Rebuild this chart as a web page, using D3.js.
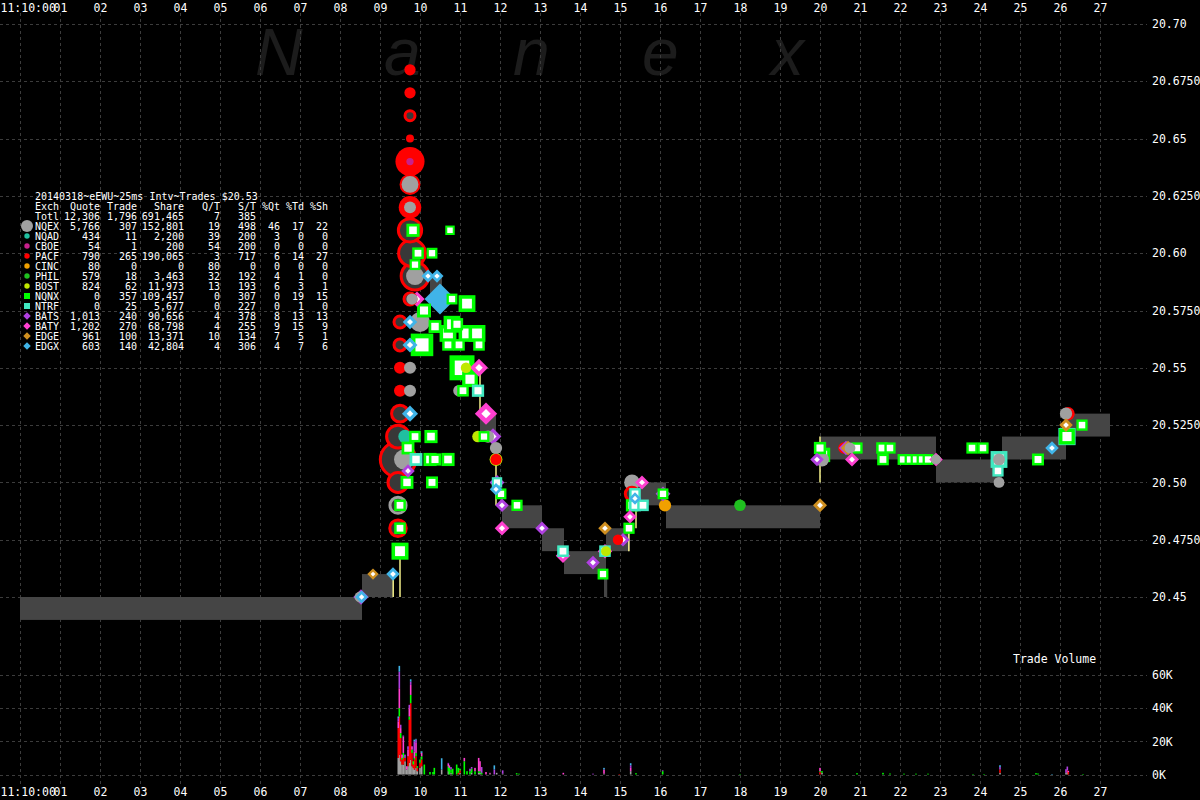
<!DOCTYPE html>
<html><head><meta charset="utf-8">
<script src="https://cdn.jsdelivr.net/npm/d3@7"></script>
<style>html,body{margin:0;padding:0;background:#000;}svg{display:block;}</style>
</head><body>
<svg id="c" width="1200" height="800"></svg>
<script>
// ---------------- DATA ----------------
const chartTitle = "20140318~eEWU~25ms Intv~Trades $20.53";
const timeTicks = d3.range(0, 28);
const priceTicks = [20.45, 20.475, 20.50, 20.525, 20.55, 20.575, 20.60, 20.625, 20.65, 20.675, 20.70];
const volTicks = [0, 20, 40, 60];

const exchNames  = ['NQEX','NQAD','CBOE','PACF','CINC','PHIL','BOST','NQNX','NTRF','BATS','BATY','EDGE','EDGX'];
const exchQuotes = [5766, 434, 54, 790, 80, 579, 824, 0, 0, 1013, 1202, 961, 603];
const exchTrades = [307, 11, 1, 265, 0, 18, 62, 357, 25, 240, 270, 100, 140];
const exchShares = [152801, 2200, 200, 190065, 0, 3463, 11973, 109457, 5677, 90656, 68798, 13371, 42804];
const exchQT     = [19, 39, 54, 3, 80, 32, 13, 0, 0, 4, 4, 10, 4];
const exchST     = [498, 200, 200, 717, 0, 192, 193, 307, 227, 378, 255, 134, 306];
const exchPctQt  = [46, 3, 0, 6, 0, 4, 6, 0, 0, 8, 9, 7, 4];
const exchPctTd  = [17, 0, 0, 14, 0, 1, 3, 19, 1, 13, 15, 5, 7];
const exchPctSh  = [22, 0, 0, 27, 0, 0, 1, 15, 0, 13, 9, 1, 6];
const totals     = [12306, 1796, 691465, 7, 385];

// bid/ask band: [t0, t1, bid, ask]
const bands = [
  [0, 8.55, 20.44, 20.45], [8.55, 9.33, 20.45, 20.46], [10.25, 10.55, 20.58, 20.59],
  [11.5, 11.9, 20.52, 20.53], [12.05, 13.05, 20.48, 20.49], [13.05, 13.6, 20.47, 20.48],
  [13.6, 14.65, 20.46, 20.47], [14.6, 14.68, 20.45, 20.46], [14.65, 15.25, 20.47, 20.48],
  [15.25, 16.15, 20.49, 20.50], [16.15, 20.0, 20.48, 20.49], [20.0, 22.9, 20.51, 20.52],
  [22.9, 24.55, 20.50, 20.51], [24.55, 26.15, 20.51, 20.52], [26.15, 27.25, 20.52, 20.53]
];

// trade range lines: [t, low, high]
const rangeLines = [
  [9.33, 20.45, 20.46], [9.5, 20.45, 20.47], [11.5, 20.53, 20.55], [11.9, 20.49, 20.515],
  [15.22, 20.47, 20.48], [15.4, 20.48, 20.50], [20.0, 20.50, 20.52]
];

// trades: [t(sec), price, exchange, shares, condition('o' = sweep ring)]
const trades = [
  [8.5,20.45,'NQEX',300],[8.525,20.45,'BATS',500],[8.54,20.45,'EDGX',250],[8.825,20.46,'EDGE',120],
  [9.325,20.46,'EDGX',300],
  [9.5,20.47,'NQNX',1550],
  [9.45,20.48,'PACF',1400,'o'],[9.5,20.48,'NQNX',400],
  [9.45,20.49,'NQEX',1300,'o'],[9.5,20.49,'NQNX',400],
  [9.45,20.50,'PACF',2500,'o'],[9.675,20.50,'NQNX',600],[10.3,20.50,'NQNX',450],
  [9.45,20.51,'PACF',11000,'o'],[9.6,20.51,'NQEX',2500],[9.7,20.505,'BATS',300],[9.7,20.515,'NQNX',600],
  [9.9,20.51,'NTRF',600],[10.25,20.51,'NQNX',650],[10.375,20.51,'NQNX',500],[10.7,20.51,'NQNX',650],
  [9.45,20.52,'PACF',3600,'o'],[9.625,20.52,'NQAD',700],[9.875,20.52,'NQNX',400],[10.275,20.52,'NQNX',650],
  [9.5,20.53,'PACF',1500,'o'],[9.75,20.53,'EDGX',600],
  [9.5,20.54,'PACF',460],[9.75,20.54,'NQEX',460],
  [9.5,20.55,'PACF',460],[9.75,20.55,'NQEX',460],
  [9.5,20.56,'PACF',460,'o'],[9.75,20.56,'EDGX',460],[10.05,20.56,'NQNX',3500],
  [9.5,20.57,'PACF',460,'o'],[9.75,20.57,'EDGX',400],[10.0,20.57,'NQEX',2500],
  [9.75,20.58,'PACF',460,'o'],[9.8,20.58,'NQEX',350],[9.925,20.58,'BATY',500],[10.5,20.58,'EDGX',4500],
  [9.875,20.59,'PACF',6000,'o'],[9.875,20.59,'NQEX',1800],[10.2,20.59,'EDGX',250],[10.425,20.59,'EDGX',250],
  [9.8,20.60,'PACF',5500,'o'],[9.95,20.60,'NQNX',400],[10.3,20.60,'NQNX',300],[9.875,20.595,'NQNX',300],
  [9.75,20.61,'PACF',3800,'o'],[9.825,20.61,'NQNX',650],[10.75,20.61,'NQNX',150],
  [9.75,20.62,'PACF',3500],[9.75,20.62,'NQEX',450],
  [9.75,20.63,'PACF',1800,'o'],[9.75,20.63,'NQEX',1500],
  [9.75,20.64,'PACF',6800],[9.75,20.64,'CBOE',20],
  [9.75,20.65,'PACF',50],[9.75,20.66,'PACF',200,'o'],[9.75,20.67,'PACF',350],[9.75,20.68,'PACF',350],
  [10.1,20.575,'NQNX',800],[10.375,20.568,'NQNX',600],[10.7,20.565,'NQNX',1500],[10.8,20.569,'NQNX',1500],
  [10.925,20.569,'NQNX',500],[10.7,20.56,'NQNX',400],[10.975,20.56,'NQNX',400],[11.175,20.565,'NQNX',1500],
  [11.425,20.565,'NQNX',1500],[11.475,20.56,'NQNX',400],[10.8,20.58,'NQNX',300],[11.175,20.578,'NQNX',1500],
  [11.05,20.55,'NQNX',4600],[11.15,20.55,'BOST',250],[11.475,20.55,'BATY',900],
  [10.975,20.54,'NQEX',400],[11.075,20.54,'NQNX',400],[11.25,20.545,'NQNX',1200],[11.45,20.54,'NTRF',500],
  [11.65,20.53,'BATY',1800],
  [11.45,20.52,'BOST',400],[11.6,20.52,'NQNX',300],[11.7,20.52,'NQEX',500],[11.825,20.52,'BATS',700],
  [11.9,20.515,'NQEX',500],[11.9,20.51,'BOST',600],[11.9,20.51,'PACF',350],
  [11.925,20.50,'BATS',450],[11.925,20.50,'NTRF',250],[11.9,20.497,'EDGX',200],[12.025,20.495,'NQNX',300],
  [12.05,20.49,'BATS',300],[12.425,20.49,'NQNX',350],[12.05,20.48,'BATY',400],[13.05,20.48,'BATS',300],
  [13.575,20.468,'BATY',400],[13.575,20.47,'NTRF',400],[14.325,20.465,'BATS',300],[14.575,20.46,'NQNX',300],
  [14.625,20.47,'BATY',400],[14.625,20.47,'NTRF',400],[14.65,20.47,'BOST',200],[14.625,20.48,'EDGE',300],
  [14.95,20.475,'PACF',250],[15.075,20.475,'BATS',300],[15.225,20.48,'NQNX',350],[15.25,20.485,'BATY',300],
  [15.3,20.50,'NQEX',1200],[15.55,20.50,'BATY',350],[15.3,20.495,'PACF',700,'o'],[15.375,20.495,'NTRF',400],
  [15.375,20.493,'EDGX',200],[15.3,20.49,'NQNX',500],[15.375,20.49,'NTRF',450],[15.575,20.49,'NTRF',400],
  [16.075,20.495,'BATS',450],[16.075,20.495,'NQNX',300],[16.125,20.49,'CINC',500],
  [18.0,20.49,'PHIL',400],[20.0,20.49,'EDGE',350],
  [19.925,20.51,'BATS',300],[20.0,20.515,'NQNX',500],[20.05,20.51,'NQEX',800],[20.075,20.512,'NQNX',900],
  [20.6,20.515,'PACF',400],[20.65,20.515,'BATS',400],[20.7,20.515,'EDGE',400],[20.75,20.515,'NQEX',300],
  [20.925,20.515,'NQNX',350],[20.8,20.51,'BATY',350],
  [21.55,20.515,'NQNX',400],[21.75,20.515,'NQNX',350],[21.575,20.51,'NQNX',400],
  [22.075,20.51,'NQNX',300],[22.25,20.51,'NQNX',300],[22.4,20.51,'NQNX',300],[22.55,20.51,'NQNX',300],[22.7,20.51,'NQNX',300],
  [22.9,20.51,'BATY',300],[22.9,20.51,'NQEX',200],
  [23.8,20.515,'NQNX',350],[24.075,20.515,'NQNX',350],
  [24.475,20.51,'NTRF',1500],[24.475,20.51,'NQEX',450],[24.45,20.505,'NTRF',350],[24.475,20.50,'NQEX',300],
  [25.45,20.51,'NQNX',450],[25.8,20.515,'EDGX',300],
  [26.175,20.52,'NTRF',1600],[26.175,20.52,'NQNX',1200],[26.15,20.525,'EDGE',300],
  [26.15,20.53,'NQEX',500],[26.2,20.53,'PACF',700],[26.55,20.525,'NQNX',350]
];

// trade volume per 25ms interval, thousands of shares
const volKeys = ['NQEX','PACF','NQNX','BATY','BATS','EDGX'];
const volRows = [
  [9.457,10,18,0,4,2,1],[9.483,12,23,5,12,10,3.5],[9.517,8,14,3,3,2,0],[9.55,6,3,1,2,0,0],
  [9.583,6,4,3,10,0.5,0],[9.625,8,2,0,0,2,0],[9.667,3,0,0,2,0,0],[9.7,5,6,0,4,2,0],
  [9.733,7,26,2,5,2,0],[9.767,9,34,5,6,2,1.4],[9.8,5,8,2,2,0,0],[9.833,4,2,2,0,0,0],
  [9.858,3,6,1,4,6,1],[9.9,4,7,2,6,2,0.5],[9.933,2,2,1,0,0,0],[10.0,4,3,2,0,0,0],
  [10.042,5,4,2,2,0,1],[10.108,0,0,6,0,0,0],[10.25,0,0,1.5,0,0,0],[10.325,0,0,1.5,0,0,0],
  [10.358,0,0,4,0,0,0],[10.542,3,0,0,0,0,6.8],[10.708,2,0,3,1.5,0.5,0],[10.733,0,0,4,1.5,0,0],
  [10.775,1,0,2,0,1.5,0],[10.817,0,0,3.5,0,0,0],[10.917,0,0,6,0,0,0],[10.958,0,1,3,0,0,0],
  [11.0,1,1.5,1,0,0,0],[11.108,0,0,8,2,0,0],[11.175,0,0,2,0,0,0],[11.25,0,0,2,0,1.5,0],
  [11.292,1,0,2.5,0,1,0],[11.375,0,0,2,2,0,0],[11.467,1,0,1,8,0,0],[11.5,1,0,1,6,0,0],
  [11.542,0,0,1,0,3.5,0],[11.65,0,0,0,1.5,0,0],[11.75,0.5,0,0,0.5,0,0],[11.858,0,0,0,0,3,2.5],
  [11.917,1,0,0,0,0,0],[12.067,0.5,0,0,0,2,0],[12.417,0,0,0.8,0,0,0],[12.475,0,0,0.5,0,0,0],
  [13.583,0,0,0,1,0,0],[14.325,0,0,0,0,0.5,0],[14.6,0.5,0,0,2.5,0,1],[14.983,0,0.3,0,0,0,0],
  [15.267,2,0,0,2,1.5,1.3],[15.4,0,0,0.8,0,0,0],[16.067,0,0,2,0,0.5,0],[18.0,0,0,0.3,0,0,0],
  [20.0,0,1.5,0.5,2,0,0],[20.05,1,0,1,0,0,0],[20.925,0,0,0.8,0,0,0],[21.575,0,0,1,0,0,0],
  [21.75,0,0,0.6,0,0,0],[22.1,0,0,0.5,0,0,0],[22.4,0,0,0.5,0,0,0],[22.7,0,0,0.5,0,0,0],
  [23.825,0,0,0.3,0,0,0],[24.1,0,0,0.3,0,0,0],[24.5,1,2,0,0,1.5,1.1],[25.4,0,0,0.8,0,0,0],
  [25.45,0,0,0.6,0,0,0],[25.8,0,0,0,0,0,0.3],[26.15,1,0,0,0,2.2,0],[26.183,1.5,1,0,0,2.3,0],
  [26.208,0,1.5,0,0.7,0,0],[26.575,0,0,0.3,0,0,0]
];

// ---------------- STYLE ----------------
const exchColor = {NQEX:'#a0a0a0',NQAD:'#20c0a0',CBOE:'#c8208c',PACF:'#ff0000',CINC:'#f0a000',PHIL:'#20c020',
  BOST:'#c0e800',NQNX:'#00ff00',NTRF:'#40e8c0',BATS:'#b040e0',BATY:'#ff40d0',EDGE:'#d09020',EDGX:'#40b4e8'};
const exchShape = {NQEX:'c',NQAD:'c',CBOE:'c',PACF:'c',CINC:'c',PHIL:'c',BOST:'c',NQNX:'s',NTRF:'s',BATS:'d',BATY:'d',EDGE:'d',EDGX:'d'};
const MONO = "'DejaVu Sans Mono', monospace";
const gridColor = '#3c3c3c';

const svg = d3.select('#c');
svg.append('rect').attr('width',1200).attr('height',800).attr('fill','#000');

const x  = d3.scaleLinear().domain([0, 27]).range([20, 1100]);
const yP = d3.scaleLinear().domain([20.45, 20.70]).range([597, 24]);
const yV = d3.scaleLinear().domain([0, 60]).range([774.5, 675]);
const rS = s => 3 + Math.sqrt(s) * 0.14;

// watermark
svg.append('g').selectAll('text').data(['N','a','n','e','x']).join('text')
  .attr('x', (d,i) => 255 + i*129).attr('y', 75)
  .attr('font-family', "'Liberation Sans', Arial, sans-serif").attr('font-style','italic')
  .attr('font-size', 66).attr('fill', '#1c1c1c').text(d => d);

// grid
const grid = svg.append('g').attr('stroke', gridColor).attr('stroke-dasharray','3,3').attr('stroke-width',1);
grid.selectAll('.v').data(timeTicks).join('line').attr('class','v')
  .attr('x1', d => x(d)+0.5).attr('x2', d => x(d)+0.5).attr('y1', 13).attr('y2', 784);
grid.selectAll('.hp').data(priceTicks).join('line').attr('class','hp')
  .attr('x1', 0).attr('x2', 1147).attr('y1', d => Math.round(yP(d))+0.5).attr('y2', d => Math.round(yP(d))+0.5);
grid.selectAll('.hv').data(volTicks).join('line').attr('class','hv')
  .attr('x1', 0).attr('x2', 1147).attr('y1', d => Math.round(yV(d))+0.5).attr('y2', d => Math.round(yV(d))+0.5);

// bands
svg.append('g').selectAll('rect').data(bands).join('rect')
  .attr('x', d => x(d[0])).attr('width', d => x(d[1]) - x(d[0]))
  .attr('y', d => yP(d[3])).attr('height', d => yP(d[2]) - yP(d[3]))
  .attr('fill', '#454545');

// range lines
svg.append('g').selectAll('line').data(rangeLines).join('line')
  .attr('x1', d => x(d[0])).attr('x2', d => x(d[0]))
  .attr('y1', d => yP(d[1])).attr('y2', d => yP(d[2]))
  .attr('stroke', '#f4f08a').attr('stroke-width', 1.5);

// markers
function drawMarker(g, shape, color, r, cond, legend) {
  if (shape === 'c') {
    if (cond === 'o') {
      g.append('circle').attr('r', r).attr('fill', '#383838').attr('stroke', color).attr('stroke-width', 3);
    } else {
      g.append('circle').attr('r', r).attr('fill', color);
    }
  } else if (shape === 's') {
    g.append('rect').attr('x', -r).attr('y', -r).attr('width', 2*r).attr('height', 2*r).attr('fill', color);
    if (!legend) {
      const ir = r * 0.58;
      g.append('rect').attr('x', -ir).attr('y', -ir).attr('width', 2*ir).attr('height', 2*ir).attr('fill', '#fff');
    }
  } else {
    const h = r * 1.25;
    g.append('path').attr('d', `M0,${-h}L${h},0L0,${h}L${-h},0Z`).attr('fill', color);
    if (!legend && r < 12) {
      const ih = h * 0.42;
      g.append('path').attr('d', `M0,${-ih}L${ih},0L0,${ih}L${-ih},0Z`).attr('fill', '#fff');
    }
  }
}
const sorted = trades.slice().sort((a, b) => b[3] - a[3]);
const mg = svg.append('g');
sorted.forEach(d => {
  const g = mg.append('g').attr('transform', `translate(${x(d[0])},${yP(d[1])})`);
  drawMarker(g, exchShape[d[2]], exchColor[d[2]], rS(d[3]), d[4], false);
});

// volume bars
const volData = volRows.map(r => { const o = {t: r[0]}; volKeys.forEach((k, i) => o[k] = r[i+1]); return o; });
const stack = d3.stack().keys(volKeys)(volData);
svg.append('g').selectAll('g').data(stack).join('g').attr('fill', s => exchColor[s.key])
  .selectAll('rect').data(s => s).join('rect')
  .attr('x', d => x(d.data.t) - 0.8).attr('width', 1.6)
  .attr('y', d => yV(d[1])).attr('height', d => Math.max(0, yV(d[0]) - yV(d[1])));

// axes
function styleAxis(g) {
  g.select('.domain').remove();
  g.selectAll('line').remove();
  g.selectAll('text').attr('fill', '#fff').attr('font-family', MONO).attr('font-size', 11.5);
}
const tFmt = d => d === 0 ? '11:10:00' : d3.format('02d')(d);
const topAx = svg.append('g').attr('transform', 'translate(0,12)')
  .call(d3.axisTop(x).tickValues(timeTicks).tickFormat(tFmt).tickSize(0).tickPadding(0));
const botAx = svg.append('g').attr('transform', 'translate(0,788)')
  .call(d3.axisBottom(x).tickValues(timeTicks).tickFormat(tFmt).tickSize(0).tickPadding(0));
[topAx, botAx].forEach(a => {
  styleAxis(a);
  a.selectAll('.tick').filter(d => d === 0).select('text').attr('text-anchor', 'start').attr('x', -20);
});
const pFmt = d => (Math.round(d * 1000) % 10 === 5) ? d.toFixed(4) : d.toFixed(2);
const rAx = svg.append('g').attr('transform', 'translate(1152,0)')
  .call(d3.axisRight(yP).tickValues(priceTicks).tickFormat(pFmt).tickSize(0).tickPadding(0));
styleAxis(rAx);
const vAx = svg.append('g').attr('transform', 'translate(1152,0)')
  .call(d3.axisRight(yV).tickValues(volTicks).tickFormat(d => d + 'K').tickSize(0).tickPadding(0));
styleAxis(vAx);

svg.append('text').attr('x', 1013).attr('y', 663).attr('fill', '#fff')
  .attr('font-family', MONO).attr('font-size', 11.5).text('Trade Volume');

// stats table
const fmt = d3.format(',');
const tbl = svg.append('g').attr('font-family', MONO).attr('font-size', 10).attr('fill', '#fff');
const colX = [100, 137, 184, 220, 256, 280, 304, 328];
const rowY = i => 196 + i * 10 + 3.5;
tbl.append('text').attr('x', 35).attr('y', rowY(0)).text(chartTitle);
const header = ['Quote','Trade','Share','Q/T','S/T','%Qt','%Td','%Sh'];
tbl.append('text').attr('x', 35).attr('y', rowY(1)).text('Exch');
header.forEach((h, j) => tbl.append('text').attr('x', colX[j]).attr('y', rowY(1)).attr('text-anchor','end').text(h));
tbl.append('text').attr('x', 35).attr('y', rowY(2)).text('Totl');
totals.forEach((v, j) => tbl.append('text').attr('x', colX[j]).attr('y', rowY(2)).attr('text-anchor','end').text(fmt(v)));
const rows = exchNames.map((n, i) => [n, exchQuotes[i], exchTrades[i], exchShares[i], exchQT[i], exchST[i], exchPctQt[i], exchPctTd[i], exchPctSh[i]]);
const rg = tbl.selectAll('.row').data(rows).join('g').attr('class','row')
  .attr('transform', (d, i) => `translate(0,${rowY(i+3)})`);
rg.append('text').attr('x', 35).text(d => d[0]);
rg.each(function(d) {
  const g = d3.select(this);
  d.slice(1).forEach((v, j) => g.append('text').attr('x', colX[j]).attr('text-anchor','end').text(fmt(v)));
  const mk = g.append('g').attr('transform', 'translate(27,-3.5)');
  const sh = exchShape[d[0]];
  const r = d[0] === 'NQEX' ? 6 : (sh === 's' ? 3 : (sh === 'd' ? 3 : 2.7));
  drawMarker(mk, sh, exchColor[d[0]], r, null, true);
});
</script>
</body></html>
